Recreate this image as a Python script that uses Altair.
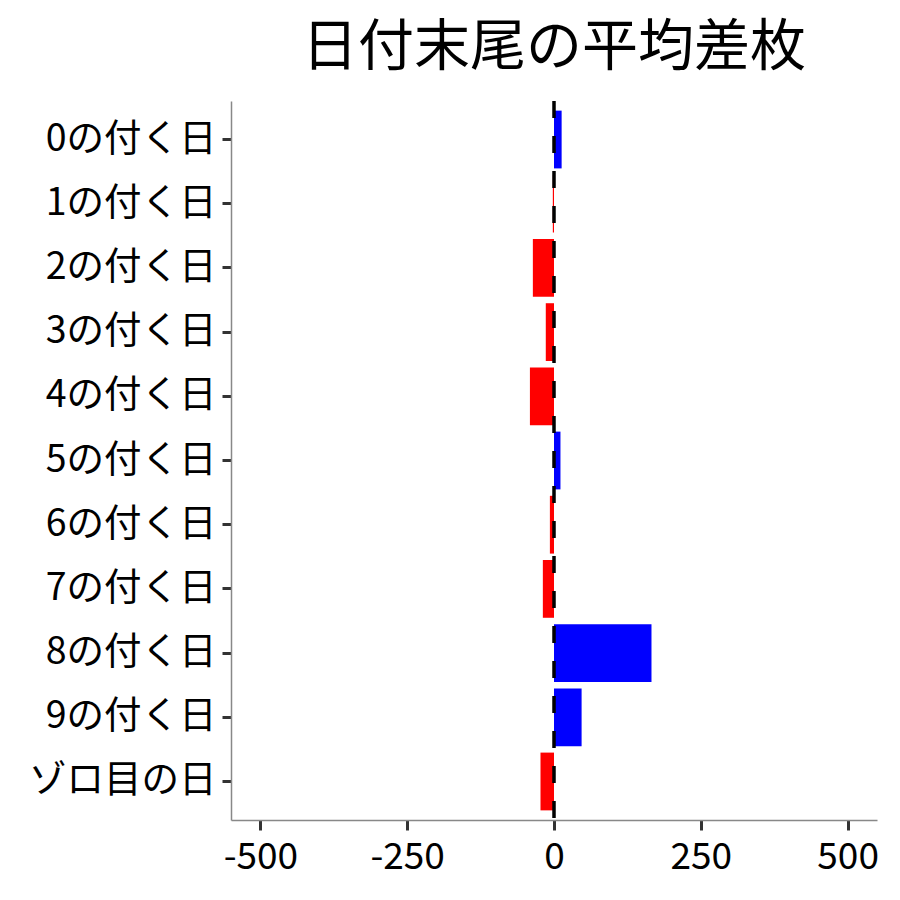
import altair as alt
import pandas as pd

categories = ["0の付く日", "1の付く日", "2の付く日", "3の付く日", "4の付く日",
              "5の付く日", "6の付く日", "7の付く日", "8の付く日", "9の付く日", "ゾロ目の日"]
values = [13, -2, -36, -14, -41, 11, -7, -19, 166, 47, -23]
tick_values = [-500, -250, 0, 250, 500]
title_text = "日付末尾の平均差枚"

df = pd.DataFrame({"category": categories, "value": values})
FONT = "Noto Sans CJK JP"

bars = alt.Chart(df).transform_calculate(
    sign="datum.value >= 0 ? 'pos' : 'neg'"
).mark_bar().encode(
    y=alt.Y("category:N", sort=categories, title=None,
            scale=alt.Scale(paddingInner=0.1, paddingOuter=0.15),
            axis=alt.Axis(labelFont=FONT, labelFontSize=37.5, labelColor="black",
                          labelLimit=400,
                          domainColor="#888888", domainWidth=1.5,
                          tickColor="#333333", tickWidth=3, tickSize=9,
                          labelPadding=6)),
    x=alt.X("value:Q", title=None,
            scale=alt.Scale(domain=[-550, 550], nice=False, zero=False),
            axis=alt.Axis(values=tick_values, labelFont=FONT, labelFontSize=37,
                          labelExpr="'' + datum.value",
                          labelColor="black", domainColor="#888888", domainWidth=1.5,
                          tickColor="#333333", tickWidth=3, tickSize=10,
                          labelPadding=9, grid=False)),
    color=alt.Color("sign:N", scale=alt.Scale(domain=["neg", "pos"],
                                              range=["#FF0000", "#0000FF"]),
                    legend=None),
)

rule = alt.Chart(pd.DataFrame({"x": [0]})).mark_rule(
    color="black", strokeWidth=3.5, strokeDash=[17, 18]
).encode(x="x:Q")

chart = alt.layer(bars, rule).properties(
    width=646, height=719,
    padding={"top": 12, "left": 20, "right": 5, "bottom": 5},
    title=alt.TitleParams(title_text, font=FONT, fontSize=56, fontWeight="normal",
                          color="black", anchor="middle", offset=22),
).configure_view(stroke=None)

chart.save("out.html", embed_options={"renderer": "svg", "actions": False})
